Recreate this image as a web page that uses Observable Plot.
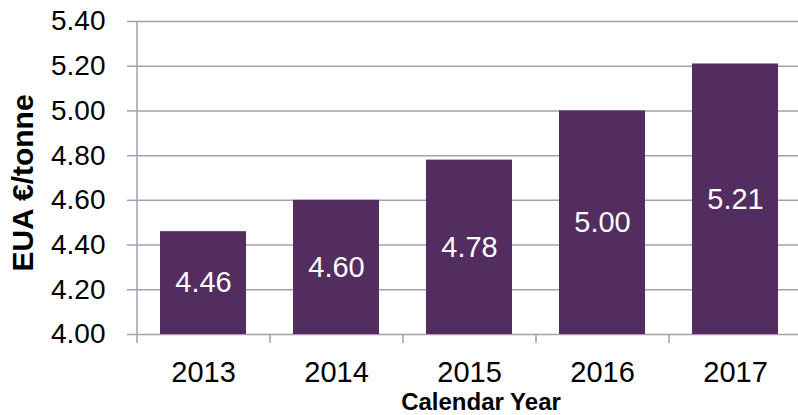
<!DOCTYPE html>
<html>
<head>
<meta charset="utf-8">
<script src="https://cdn.jsdelivr.net/npm/d3@7"></script>
<script src="https://cdn.jsdelivr.net/npm/@observablehq/plot@0.6"></script>
<style>
  html, body { margin: 0; padding: 0; background: #fff; overflow: hidden; }
  #chart svg { overflow: hidden; }
</style>
</head>
<body>
<div id="chart"></div>
<script>
const years = ["2013", "2014", "2015", "2016", "2017"];
const prices = [4.46, 4.60, 4.78, 5.00, 5.21];
const yTicks = [4.00, 4.20, 4.40, 4.60, 4.80, 5.00, 5.20, 5.40];
const yTitle = "EUA €/tonne";
const xTitle = "Calendar Year";

const data = years.map((year, i) => ({year, value: prices[i]}));
const yMin = yTicks[0], yMax = yTicks[yTicks.length - 1];

const width = 798, height = 415;
const marginLeft = 137, marginRight = -4, marginTop = 21, marginBottom = 81;
const step = (width - marginLeft - marginRight) / years.length;
const barColor = "#532D5F";
const gridColor = "#A99DB1";
const font = "Arial, 'Liberation Sans', sans-serif";
const fmt = d3.format(".2f");

const chart = Plot.plot({
  width, height, marginLeft, marginRight, marginTop, marginBottom,
  style: {fontFamily: font, color: "#000", background: "#fff"},
  x: {domain: years, paddingInner: 0.35, paddingOuter: 0.175, axis: null},
  y: {domain: [yMin, yMax], axis: null},
  marks: [
    Plot.gridY(yTicks, {stroke: gridColor, strokeOpacity: 1, strokeWidth: 1.5}),
    Plot.barY(data, {x: "year", y1: yMin, y2: "value", fill: barColor}),
    Plot.ruleX([years[0]], {x: d => d, y1: yMax, y2: yMin, insetBottom: -9, dx: -step / 2, stroke: gridColor, strokeWidth: 1.5}),
    Plot.ruleX(years.slice(1), {x: d => d, y1: yMin, y2: yMin, insetBottom: -9, dx: -step / 2, stroke: gridColor, strokeWidth: 1.5}),
    Plot.axisY(yTicks, {tickSize: 10, tickPadding: 22, tickFormat: fmt, fontSize: 28, stroke: gridColor, strokeWidth: 1.5, fill: "#000", label: null}),
    Plot.axisX({tickSize: 0, tickPadding: 27, fontSize: 29, fill: "#000", label: null}),
    Plot.text(data, {x: "year", y: d => (yMin + d.value) / 2, text: d => fmt(d.value), fill: "white", fontSize: 29, lineAnchor: "middle"}),
    Plot.text([yTitle], {frameAnchor: "left", text: d => d, rotate: -90, textAnchor: "middle", dx: -114, dy: 5, fontSize: 30, fontWeight: "bold", fill: "#000", lineAnchor: "middle"}),
    Plot.text([xTitle], {frameAnchor: "bottom", text: d => d, textAnchor: "middle", dx: 11, dy: 68, fontSize: 24, fontWeight: "bold", fill: "#000", lineAnchor: "middle"})
  ]
});
document.getElementById("chart").appendChild(chart);
</script>
</body>
</html>
